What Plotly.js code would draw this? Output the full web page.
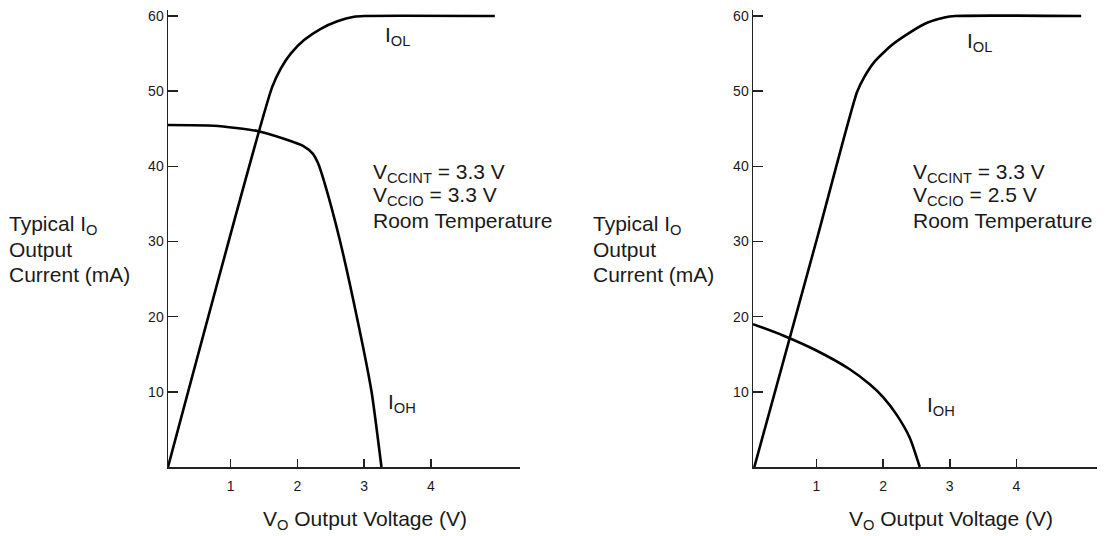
<!DOCTYPE html>
<html>
<head>
<meta charset="utf-8">
<script src="https://cdn.plot.ly/plotly-3.0.1.min.js"></script>
<style>html,body{margin:0;padding:0;background:#fff;}#chart{width:1109px;height:536px;}</style>
</head>
<body>
<div id="chart"></div>
<script>
// ---- Data ----
// Left panel: VCCINT = 3.3 V, VCCIO = 3.3 V
const leftIOL_V = [0.06, 1.62, 1.75, 1.90, 2.10, 2.35, 2.60, 2.85, 3.00, 4.96];
const leftIOL_I = [0, 50.5, 53.0, 55.0, 56.8, 58.3, 59.3, 59.9, 60, 60];
const leftIOH_V = [0.06, 0.75, 1.40, 1.82, 2.09, 2.23, 2.31, 2.41, 2.63, 2.90, 3.11, 3.26];
const leftIOH_I = [45.5, 45.4, 44.7, 43.6, 42.7, 41.7, 40.4, 37.7, 30.4, 19.6, 10.1, 0];
// Right panel: VCCINT = 3.3 V, VCCIO = 2.5 V
const rightIOL_V = [0.07, 1.01, 1.61, 1.72, 1.87, 2.14, 2.40, 2.66, 2.92, 3.08, 4.97];
const rightIOL_I = [0, 30.4, 49.9, 51.9, 53.9, 56.2, 57.8, 59.1, 59.8, 60, 60];
const rightIOH_V = [0.05, 0.50, 1.00, 1.50, 1.80, 2.00, 2.20, 2.40, 2.55];
const rightIOH_I = [19.0, 17.5, 15.5, 13.0, 11.0, 9.3, 7.0, 3.9, 0];
// Tick values / labels
const xTicks = [1, 2, 3, 4];
const yTicks = [10, 20, 30, 40, 50, 60];
const yTitleLines = ["Typical I<sub>O</sub>", "Output", "Current (mA)"];
const xTitle = "V<sub>O</sub> Output Voltage (V)";
const leftCond = ["V<sub>CCINT</sub> = 3.3 V", "V<sub>CCIO</sub> = 3.3 V", "Room Temperature"];
const rightCond = ["V<sub>CCINT</sub> = 3.3 V", "V<sub>CCIO</sub> = 2.5 V", "Room Temperature"];

// ---- Layout helpers ----
const W = 1109, H = 536;
const px = x => x / W;
const py = y => (H - y) / H;
const FONT = "Liberation Sans, Arial, Helvetica, sans-serif";
const TXT = "#1a1a1a";

const lineStyle = {color: "#000", width: 2.6, shape: "spline", smoothing: 0.6};
const traces = [
  {x: leftIOL_V, y: leftIOL_I, xaxis: "x", yaxis: "y", mode: "lines", line: lineStyle, hoverinfo: "skip"},
  {x: leftIOH_V, y: leftIOH_I, xaxis: "x", yaxis: "y", mode: "lines", line: lineStyle, hoverinfo: "skip"},
  {x: rightIOL_V, y: rightIOL_I, xaxis: "x2", yaxis: "y2", mode: "lines", line: lineStyle, hoverinfo: "skip"},
  {x: rightIOH_V, y: rightIOH_I, xaxis: "x2", yaxis: "y2", mode: "lines", line: lineStyle, hoverinfo: "skip"}
];

const axBase = {
  showline: true, linewidth: 1.5, linecolor: "#222", showgrid: false, zeroline: false,
  ticks: "inside", tickwidth: 1.5, tickcolor: "#222", fixedrange: true,
  tickfont: {family: FONT, size: 14, color: TXT}
};
const xAx = (dom, rng, anchor) => Object.assign({}, axBase, {
  domain: dom, range: rng, anchor: anchor, tickvals: xTicks, ticktext: xTicks.map(String),
  ticklen: 8, ticklabelstandoff: 6
});
const yDom = [py(467), py(10)];
const yAx = (anchor) => Object.assign({}, axBase, {
  domain: yDom, range: [0, 60 * (467 - 10) / (467 - 16)], anchor: anchor,
  tickvals: yTicks, ticktext: yTicks.map(String), ticklen: 10
});

const annotations = [];
function addText(text, xLeft, baseline, opts) {
  annotations.push(Object.assign({
    text: text, xref: "paper", yref: "paper", x: px(xLeft), y: py(baseline - 7.5),
    xanchor: "left", yanchor: "middle", showarrow: false, align: "left",
    font: {family: FONT, size: 21, color: TXT}
  }, opts || {}));
}
// Y titles
yTitleLines.forEach((t, i) => addText(t, 7, 232 + 25 * i));
yTitleLines.forEach((t, i) => addText(t, 591, 232 + 25 * i));
// X titles
addText(xTitle, 261, 527);
addText(xTitle, 847, 527);
// Condition blocks
leftCond.forEach((t, i) => addText(t, 371, 180 + 24 * i));
rightCond.forEach((t, i) => addText(t, 911, 180 + 24 * i));
// Curve labels
addText("I<sub>OL</sub>", 383, 44);
addText("I<sub>OH</sub>", 386, 410);
addText("I<sub>OL</sub>", 965, 49);
addText("I<sub>OH</sub>", 925, 413);

const layout = {
  width: W, height: H, margin: {l: 0, r: 0, t: 0, b: 0},
  paper_bgcolor: "#fff", plot_bgcolor: "rgba(0,0,0,0)", showlegend: false,
  font: {family: FONT, color: TXT},
  xaxis: xAx([px(168), px(520)], [0.06, 0.06 + (520 - 168) / 66.7], "y"),
  yaxis: yAx("x"),
  xaxis2: xAx([px(753), px(1097)], [0.05, 0.05 + (1097 - 753) / 66.7], "y2"),
  yaxis2: yAx("x2"),
  annotations: annotations
};
Plotly.newPlot("chart", traces, layout, {displayModeBar: false, staticPlot: true});
</script>
</body>
</html>
